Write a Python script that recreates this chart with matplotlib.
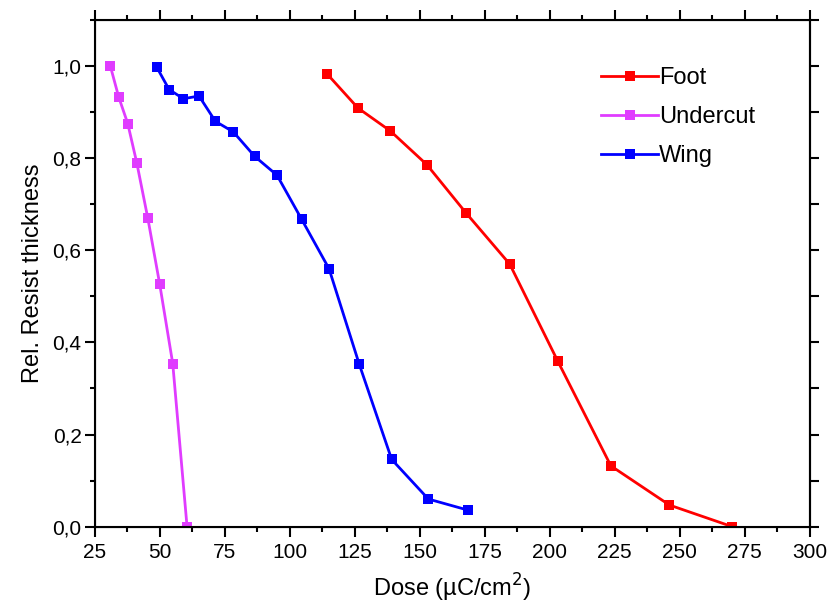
import matplotlib.pyplot as plt
from matplotlib.ticker import MultipleLocator, FuncFormatter

plt.rcParams["font.family"] = ["Liberation Sans", "DejaVu Sans"]

# Data
foot_dose = [114.5, 126.2, 138.7, 152.7, 167.8, 184.6, 203.1, 223.5, 246.0, 270.2]
foot_thick = [0.982, 0.909, 0.859, 0.786, 0.681, 0.570, 0.359, 0.132, 0.047, 0.0]

undercut_dose = [31.0, 34.2, 37.7, 41.2, 45.4, 50.0, 55.0, 60.5]
undercut_thick = [1.0, 0.933, 0.875, 0.789, 0.670, 0.526, 0.354, 0.0]

wing_dose = [48.8, 53.6, 59.1, 65.1, 71.4, 78.3, 86.5, 95.1, 104.6, 115.1, 126.7, 139.2, 153.3, 168.5]
wing_thick = [0.998, 0.949, 0.929, 0.935, 0.880, 0.857, 0.804, 0.763, 0.667, 0.560, 0.353, 0.146, 0.060, 0.036]

fig = plt.figure(figsize=(8.34, 6.13), dpi=100)
ax = fig.add_axes([0.1136, 0.1408, 0.8574, 0.8266])

style = dict(marker="s", markersize=7, markeredgewidth=0, linewidth=2)
ax.plot(foot_dose, foot_thick, color="#FF0000", label="Foot", **style)
ax.plot(undercut_dose, undercut_thick, color="#E03CFF", label="Undercut", **style)
ax.plot(wing_dose, wing_thick, color="#0000FF", label="Wing", **style)

ax.set_xlim(25, 300)
ax.set_ylim(0, 1.1)
ax.xaxis.set_major_locator(MultipleLocator(25))
ax.xaxis.set_minor_locator(MultipleLocator(12.5))
ax.yaxis.set_major_locator(MultipleLocator(0.2))
ax.yaxis.set_minor_locator(MultipleLocator(0.1))
ax.yaxis.set_major_formatter(FuncFormatter(lambda v, p: f"{v:.1f}".replace(".", ",")))

for s in ax.spines.values():
    s.set_linewidth(1.5)

ax.tick_params(which="major", direction="out", length=7, width=1.5, labelsize=15,
               top=True, right=False, pad=5)
ax.tick_params(axis="y", which="major", pad=2.5)
ax.tick_params(which="minor", direction="out", length=3.5, width=1.5, top=True, right=False)

# right axis: major and minor ticks of equal length, no labels
ax2 = ax.twinx()
ax2.set_ylim(0, 1.1)
ax2.yaxis.set_major_locator(MultipleLocator(0.1))
ax2.tick_params(axis="y", direction="out", length=6.5, width=1.5, labelright=False)
ax2.spines["right"].set_linewidth(1.5)

ax.set_xlabel("Dose (\u00b5C/cm$^2$)", fontsize=17, labelpad=7)
ax.set_ylabel("Rel. Resist thickness", fontsize=17, labelpad=6)

ax.legend(loc="upper left", bbox_to_anchor=(0.692, 0.93), frameon=False, fontsize=17,
          handlelength=2.4, handletextpad=0.05, labelspacing=0.72, borderpad=0)

fig.savefig("out.png", dpi=100)
